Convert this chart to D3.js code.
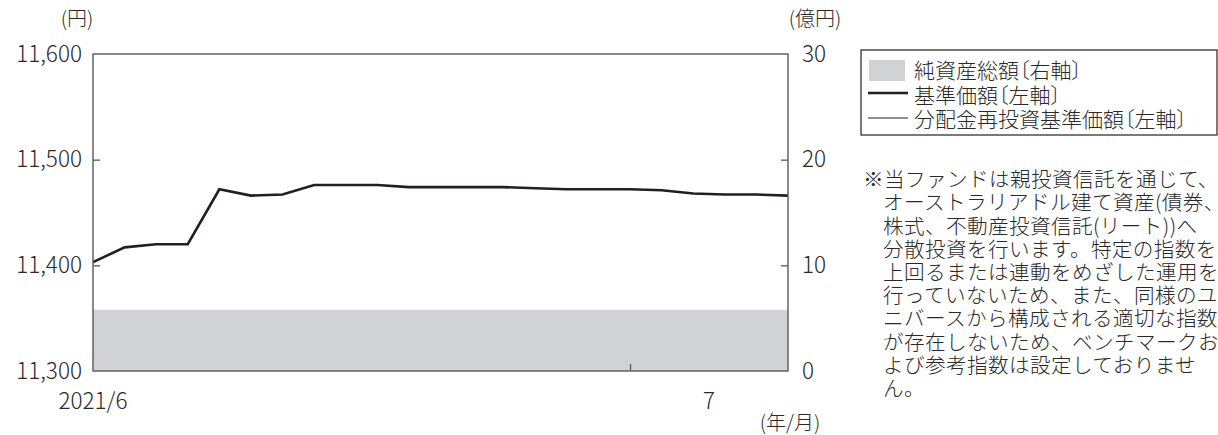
<!DOCTYPE html>
<html lang="ja">
<head>
<meta charset="utf-8">
<script src="https://cdn.jsdelivr.net/npm/d3@7"></script>
<style>
  html, body { margin: 0; padding: 0; background: #fff; }
  svg { display: block; font-family: "Noto Sans CJK JP", "Noto Sans", sans-serif; font-weight: 300; }
  text { fill: #2b2829; }
</style>
</head>
<body>
<svg id="chart" width="1218" height="435"></svg>
<script>
// 営業日（2021年6月〜7月）
const dates = [
  "2021-06-08", "2021-06-09", "2021-06-10", "2021-06-11",
  "2021-06-14", "2021-06-15", "2021-06-16", "2021-06-17", "2021-06-18",
  "2021-06-21", "2021-06-22", "2021-06-23", "2021-06-24", "2021-06-25",
  "2021-06-28", "2021-06-29", "2021-06-30",
  "2021-07-01", "2021-07-02", "2021-07-05", "2021-07-06", "2021-07-07", "2021-07-08"
];
// 基準価額（円）
const navValues = [
  11403, 11417, 11420, 11420,
  11472, 11466, 11467, 11476, 11476,
  11476, 11474, 11474, 11474, 11474,
  11473, 11472, 11472,
  11472, 11471, 11468, 11467, 11467, 11466
];
// 分配金再投資基準価額（円）
const reinvestValues = [
  11403, 11417, 11420, 11420,
  11472, 11466, 11467, 11476, 11476,
  11476, 11474, 11474, 11474, 11474,
  11473, 11472, 11472,
  11472, 11471, 11468, 11467, 11467, 11466
];
// 純資産総額（億円）
const netAssets = [
  5.8, 5.8, 5.8, 5.8,
  5.8, 5.8, 5.8, 5.8, 5.8,
  5.8, 5.8, 5.8, 5.8, 5.8,
  5.8, 5.8, 5.8,
  5.8, 5.8, 5.8, 5.8, 5.8, 5.8
];
const leftTicks = [11300, 11400, 11500, 11600];
const rightTicks = [0, 10, 20, 30];
const monthTick = "2021-07-01";
const xLabels = ["2021/6", "7"];
const legendLabels = ["純資産総額〔右軸〕", "基準価額〔左軸〕", "分配金再投資基準価額〔左軸〕"];
const noteLines = [
  "※当ファンドは親投資信託を通じて、",
  "オーストラリアドル建て資産(債券、",
  "株式、不動産投資信託(リート))へ",
  "分散投資を行います。特定の指数を",
  "上回るまたは連動をめざした運用を",
  "行っていないため、また、同様のユ",
  "ニバースから構成される適切な指数",
  "が存在しないため、ベンチマークお",
  "よび参考指数は設定しておりませ",
  "ん。"
];

const svg = d3.select("#chart");
const plot = { left: 93, right: 788, top: 54, bottom: 371 };

const x = d3.scalePoint().domain(dates).range([plot.left, plot.right]);
const yL = d3.scaleLinear().domain([11300, 11600]).range([plot.bottom, plot.top]);
const yR = d3.scaleLinear().domain([0, 30]).range([plot.bottom, plot.top]);

const axisColor = "#5a5858";
const tickFont = 22.5;

// 純資産総額（面）
const area = d3.area()
  .x((d, i) => x(dates[i]))
  .y0(yR(0))
  .y1(d => yR(d));
svg.append("path")
  .datum(netAssets)
  .attr("d", area)
  .attr("fill", "#d1d2d4");

// 分配金再投資基準価額（細線）
const lineL = d3.line().x((d, i) => x(dates[i])).y(d => yL(d));
svg.append("path")
  .datum(reinvestValues)
  .attr("d", lineL)
  .attr("fill", "none")
  .attr("stroke", "#231f20")
  .attr("stroke-width", 1);

// 基準価額（太線）
svg.append("path")
  .datum(navValues)
  .attr("d", lineL)
  .attr("fill", "none")
  .attr("stroke", "#231f20")
  .attr("stroke-width", 2.6)
  .attr("stroke-linejoin", "miter");

// 枠
svg.append("rect")
  .attr("x", plot.left).attr("y", plot.top)
  .attr("width", plot.right - plot.left)
  .attr("height", plot.bottom - plot.top)
  .attr("fill", "none")
  .attr("stroke", axisColor)
  .attr("stroke-width", 1.4);

function styleAxis(g) {
  g.select(".domain").remove();
  g.selectAll(".tick line").attr("stroke", axisColor).attr("stroke-width", 1.3);
  g.selectAll(".tick text")
    .attr("font-size", tickFont)
    .attr("fill", "#2b2829")
    .style("font-family", "'Noto Sans CJK JP', sans-serif")
    .style("font-weight", 300);
}

// 左軸
svg.append("g")
  .attr("transform", `translate(${plot.left},0)`)
  .call(d3.axisLeft(yL).tickValues(leftTicks).tickFormat(d3.format(",")).tickSize(-7).tickPadding(11))
  .call(styleAxis)
  .call(g => g.selectAll(".tick").filter(d => d === 11300 || d === 11600).select("line").remove());

// 右軸
svg.append("g")
  .attr("transform", `translate(${plot.right},0)`)
  .call(d3.axisRight(yR).tickValues(rightTicks).tickSize(-7).tickPadding(14))
  .call(styleAxis)
  .call(g => g.selectAll(".tick").filter(d => d === 0 || d === 30).select("line").remove());

// 下軸（月の区切り）
svg.append("g")
  .attr("transform", `translate(0,${plot.bottom})`)
  .call(d3.axisBottom(x).tickValues([monthTick]).tickSize(-7).tickFormat(""))
  .call(styleAxis);

// 月ラベル
const xLabelPos = [
  x(dates[0]),
  (x(monthTick) + x(dates[dates.length - 1])) / 2
];
svg.append("g").selectAll("text")
  .data(xLabels)
  .join("text")
  .attr("x", (d, i) => xLabelPos[i])
  .attr("y", 401)
  .attr("dy", "0.35em")
  .attr("text-anchor", "middle")
  .attr("font-size", tickFont)
  .text(d => d);

// 単位
svg.append("text").attr("x", 77).attr("y", 19).attr("dy", "0.35em")
  .attr("text-anchor", "middle").attr("font-size", 20).text("(円)");
svg.append("text").attr("x", 815).attr("y", 19).attr("dy", "0.35em")
  .attr("text-anchor", "middle").attr("font-size", 20).text("(億円)");
svg.append("text").attr("x", 790).attr("y", 423).attr("dy", "0.35em")
  .attr("text-anchor", "middle").attr("font-size", 20).text("(年/月)");

// 凡例
const legend = svg.append("g");
legend.append("rect")
  .attr("x", 861).attr("y", 50)
  .attr("width", 356).attr("height", 85)
  .attr("fill", "#fff")
  .attr("stroke", "#231f20")
  .attr("stroke-width", 1.2);
const rowY = [71, 96, 120];
legend.append("rect")
  .attr("x", 869).attr("y", rowY[0] - 11)
  .attr("width", 36).attr("height", 21)
  .attr("fill", "#d1d2d4");
legend.append("line")
  .attr("x1", 868).attr("x2", 908)
  .attr("y1", rowY[1] - 3).attr("y2", rowY[1] - 3)
  .attr("stroke", "#231f20").attr("stroke-width", 2.6);
legend.append("line")
  .attr("x1", 868).attr("x2", 908)
  .attr("y1", rowY[2] - 2).attr("y2", rowY[2] - 2)
  .attr("stroke", "#231f20").attr("stroke-width", 1);
legend.selectAll("text.lg")
  .data(legendLabels)
  .join("text")
  .attr("class", "lg")
  .attr("x", 914)
  .attr("y", (d, i) => rowY[i])
  .attr("dy", "0.35em")
  .attr("font-size", 21)
  .style("font-feature-settings", "'palt'")
  .text(d => d);

// 注記
svg.append("g").selectAll("text")
  .data(noteLines)
  .join("text")
  .attr("x", (d, i) => i === 0 ? 863 : 883)
  .attr("y", (d, i) => 180 + i * 23.2)
  .attr("dy", "0.35em")
  .attr("font-size", 20.6)
  .attr("letter-spacing", 0.4)
  .text(d => d);
</script>
</body>
</html>
